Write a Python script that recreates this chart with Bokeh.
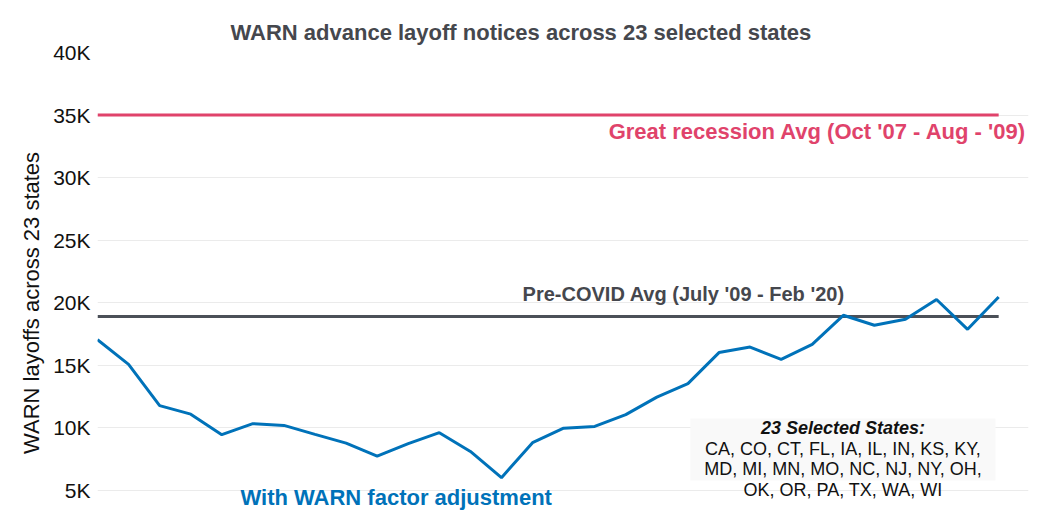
from bokeh.plotting import figure
from bokeh.models import Label, BoxAnnotation, FixedTicker, ColumnDataSource
from bokeh.embed import file_html
from bokeh.resources import INLINE

# ---- data ----
periods = list(range(1, 31))
warn_adjusted = [17050, 15080, 11780, 11100, 9460, 10340, 10200, 9480, 8780, 7740,
                 8740, 9620, 8120, 6020, 8820, 9980, 10120, 11060, 12460, 13540,
                 16020, 16460, 15480, 16680, 19000, 18200, 18680, 20260, 17880, 20460]
pre_covid_avg = 18900
great_recession_avg = 35000
y_ticks = [5000, 10000, 15000, 20000, 25000, 30000, 35000, 40000]
y_tick_labels = ["5K", "10K", "15K", "20K", "25K", "30K", "35K", "40K"]
states_lines = ["CA, CO, CT, FL, IA, IL, IN, KS, KY,",
                "MD, MI, MN, MO, NC, NJ, NY, OH,",
                "OK, OR, PA, TX, WA, WI"]

FONT = "Liberation Sans"
BLUE = "#0072b9"
RED = "#e0436b"
GRAY = "#4b5058"

p = figure(width=1040, height=520, output_backend="svg", toolbar_location=None,
           x_range=(periods[0], periods[-1] + 0.96), y_range=(3400, 40000),
           min_border_left=97, min_border_right=12, min_border_top=52, min_border_bottom=10,
           title="WARN advance layoff notices across 23 selected states")
p.outline_line_color = None
p.background_fill_color = "white"

p.title.text_font = FONT
p.title.text_font_size = "22px"
p.title.text_font_style = "bold"
p.title.text_color = "#45474d"
p.title.align = "left"
p.title.offset = 133
p.title.standoff = 16

p.xaxis.visible = False
p.xgrid.grid_line_color = None
p.ygrid.grid_line_color = "#ebebeb"
p.ygrid.grid_line_width = 1

ya = p.yaxis[0]
ya.ticker = FixedTicker(ticks=y_ticks)
ya.major_label_overrides = {t: l for t, l in zip(y_ticks, y_tick_labels)}
ya.axis_line_color = None
ya.major_tick_line_color = None
ya.minor_tick_line_color = None
ya.major_tick_in = 0
ya.major_tick_out = 0
ya.minor_tick_in = 0
ya.minor_tick_out = 0
ya.major_label_text_font = FONT
ya.major_label_text_font_size = "21px"
ya.major_label_text_color = "#111111"
ya.major_label_standoff = 7
# trailing no-break spaces push the title down a little, as in the reference
ya.axis_label = "WARN layoffs across 23 states" + "\u00a0" * 7
ya.axis_label_text_font = FONT
ya.axis_label_text_font_size = "22px"
ya.axis_label_text_font_style = "normal"
ya.axis_label_text_color = "#111111"
ya.axis_label_standoff = 6

first, last = periods[0], periods[-1]

# reference lines spanning the data
p.line([first, last], [great_recession_avg] * 2, line_color=RED, line_width=3)
p.line([first, last], [pre_covid_avg] * 2, line_color=GRAY, line_width=3)

src = ColumnDataSource(dict(x=periods, y=warn_adjusted))
p.line("x", "y", source=src, line_color=BLUE, line_width=3)

# annotation labels
p.add_layout(Label(x=last + 0.9, y=great_recession_avg - 1300,
                   text="Great recession Avg (Oct '07 - Aug - '09)",
                   text_font=FONT, text_font_size="22px", text_font_style="bold",
                   text_color=RED, text_align="right", text_baseline="middle"))
p.add_layout(Label(x=first + 13.68, y=pre_covid_avg + 1820,
                   text="Pre-COVID Avg (July '09 - Feb '20)",
                   text_font=FONT, text_font_size="20px", text_font_style="bold",
                   text_color="#45474d", text_align="left", text_baseline="middle"))
p.add_layout(Label(x=first + 4.6, y=4450,
                   text="With WARN factor adjustment",
                   text_font=FONT, text_font_size="22px", text_font_style="bold",
                   text_color=BLUE, text_align="left", text_baseline="middle"))

# states box
p.add_layout(BoxAnnotation(left=first + 19.08, right=first + 28.9, bottom=5800, top=10760,
                           fill_color="#f9f9f9", fill_alpha=1.0, line_color=None, level="annotation"))
cx = first + 23.99
p.add_layout(Label(x=cx, y=10000, text="23 Selected States:",
                   text_font=FONT, text_font_size="18px", text_font_style="bold italic",
                   text_color="#111111", text_align="center", text_baseline="middle"))
for i, line in enumerate(states_lines):
    p.add_layout(Label(x=cx, y=10000 - (i + 1) * 1650, text=line,
                       text_font=FONT, text_font_size="18px",
                       text_color="#111111", text_align="center", text_baseline="middle"))

open("out.html", "w").write(file_html(p, INLINE))
